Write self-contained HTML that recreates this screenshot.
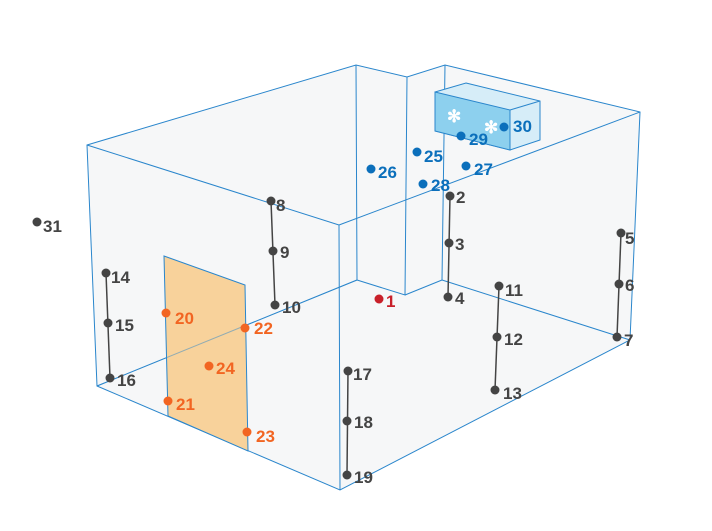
<!DOCTYPE html><html><head><style>body{margin:0;background:#fff}svg{display:block}text{font-family:"Liberation Sans",sans-serif;font-size:17px;font-weight:bold}</style></head><body>
<svg width="712" height="531" viewBox="0 0 712 531">
<g fill="#f4f5f6" fill-opacity="0.8" stroke="#2a86cc" stroke-width="1">
<polygon points="87,145 356,65 407,77 445,65 640,112 630,340 340,490 97,386"/>
</g>
<g fill="none" stroke="#2a86cc" stroke-width="1">
<polyline points="87,145 339,225 340,490"/>
<polyline points="339,225 640,112"/>
<polyline points="356,65 357,280 97,386"/>
<polyline points="357,280 405,295 407,77"/>
<polyline points="405,295 442,280 445,65"/>
<polyline points="442,280 630,340"/>
</g>
<g stroke="#2a86cc" stroke-width="1">
<polygon points="466,83 540,101 540,140 510,150 435,131 435,92" fill="#d6edf8"/>
<polygon points="435,92 510,110 510,150 435,131" fill="#8dd0ee"/>
<polyline points="510,110 540,101" fill="none"/>
</g>
<text x="447" y="122" fill="#fff" font-size="18">✻</text><text x="484" y="133" fill="#fff" font-size="18">✻</text>
<polygon points="164,256 245,285 248,451 168,416" fill="#f8d29b" stroke="#2a86cc" stroke-width="1"/>
<line x1="97" y1="386" x2="357" y2="280" stroke="#2a86cc" stroke-opacity="0.5"/>
<g stroke="#444" stroke-width="1.5">
<line x1="450" y1="196" x2="448" y2="297"/><line x1="621" y1="233" x2="617" y2="337"/>
<line x1="271" y1="201" x2="275" y2="305"/><line x1="499" y1="286" x2="495" y2="390"/>
<line x1="106" y1="273" x2="110" y2="378"/><line x1="348" y1="371" x2="347" y2="475"/>
</g>
<g fill="#444">
<circle cx="450" cy="196" r="4.5"/><text x="456" y="203">2</text>
<circle cx="449" cy="243" r="4.5"/><text x="455" y="250">3</text>
<circle cx="448" cy="297" r="4.5"/><text x="455" y="304">4</text>
<circle cx="621" cy="233" r="4.5"/><text x="625" y="244">5</text>
<circle cx="619" cy="284" r="4.5"/><text x="625" y="291">6</text>
<circle cx="617" cy="337" r="4.5"/><text x="624" y="346">7</text>
<circle cx="271" cy="201" r="4.5"/><text x="276" y="211">8</text>
<circle cx="273" cy="251" r="4.5"/><text x="280" y="258">9</text>
<circle cx="275" cy="305" r="4.5"/><text x="282" y="313">10</text>
<circle cx="499" cy="286" r="4.5"/><text x="505" y="296">11</text>
<circle cx="497" cy="337" r="4.5"/><text x="504" y="345">12</text>
<circle cx="495" cy="390" r="4.5"/><text x="503" y="399">13</text>
<circle cx="106" cy="273" r="4.5"/><text x="111" y="283">14</text>
<circle cx="108" cy="323" r="4.5"/><text x="115" y="331">15</text>
<circle cx="110" cy="378" r="4.5"/><text x="117" y="386">16</text>
<circle cx="348" cy="371" r="4.5"/><text x="353" y="380">17</text>
<circle cx="347" cy="421" r="4.5"/><text x="354" y="428">18</text>
<circle cx="347" cy="475" r="4.5"/><text x="354" y="483">19</text>
<circle cx="37" cy="222" r="4.5"/><text x="43" y="232">31</text>
</g>
<g fill="#f26522">
<circle cx="166" cy="313" r="4.5"/><text x="175" y="324">20</text>
<circle cx="168" cy="401" r="4.5"/><text x="176" y="410">21</text>
<circle cx="245" cy="328" r="4.5"/><text x="254" y="334">22</text>
<circle cx="247" cy="432" r="4.5"/><text x="256" y="442">23</text>
<circle cx="209" cy="366" r="4.5"/><text x="216" y="374">24</text>
</g>
<g fill="#0b6fbb">
<circle cx="417" cy="152" r="4.5"/><text x="424" y="162">25</text>
<circle cx="371" cy="169" r="4.5"/><text x="378" y="178">26</text>
<circle cx="466" cy="166" r="4.5"/><text x="474" y="175">27</text>
<circle cx="423" cy="184" r="4.5"/><text x="431" y="191">28</text>
<circle cx="461" cy="136" r="4.5"/><text x="469" y="145">29</text>
<circle cx="504" cy="127" r="4.5"/><text x="513" y="132">30</text>
</g>
<circle cx="379" cy="299" r="4.5" fill="#c8202a"/><text x="386" y="307" fill="#c8202a">1</text>
</svg></body></html>
